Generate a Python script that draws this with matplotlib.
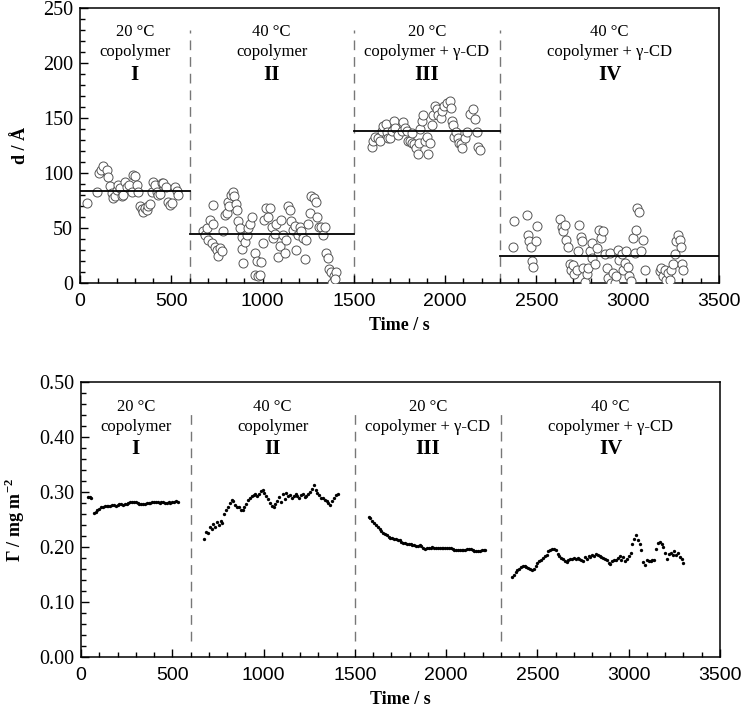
import numpy as np
import matplotlib
matplotlib.use("Agg")
import matplotlib.pyplot as plt
from matplotlib.ticker import MultipleLocator, FormatStrFormatter

plt.rcParams['font.family'] = ['Liberation Serif', 'DejaVu Serif']
plt.rcParams['mathtext.fontset'] = 'custom'
plt.rcParams['mathtext.rm'] = 'Liberation Serif'
plt.rcParams['mathtext.bf'] = 'Liberation Serif:bold'

# ---------------- data: top panel (d / Å) ----------------
t_I = [40, 91, 106, 115, 128, 146, 155, 164, 173, 183, 192, 200, 210, 219, 228, 237, 246, 256, 270, 283,
       289, 301, 310, 319, 329, 338, 347, 356, 365, 374, 383, 392, 402, 411, 420, 429, 438, 447, 456, 471,
       484, 493, 502, 520, 529, 538]
d_I = [73, 83, 100, 103, 106, 103, 96, 88, 82, 77, 79, 85, 89, 86, 79, 80, 92, 87, 89, 83,
       98, 97, 89, 83, 70, 67, 65, 68, 66, 70, 72, 83, 92, 89, 83, 80, 81, 91, 91, 87,
       74, 71, 73, 87, 84, 80]

t_II = [675, 685, 694, 703, 712, 721, 727, 730, 740, 749, 758, 767, 776, 785, 794, 803, 813, 818, 825, 836,
        843, 854, 861, 867, 876, 885, 890, 894, 903, 912, 921, 930, 940, 958, 967, 958, 976, 985, 994, 1000,
        1007, 1018, 1031, 1040, 1049, 1058, 1067, 1076, 1085, 1094, 1103, 1112, 1122, 1131, 1140, 1149, 1158, 1167, 1176, 1185,
        1194, 1204, 1213, 1222, 1231, 1240, 1249, 1258, 1267, 1280, 1291, 1298, 1309, 1322, 1331, 1340, 1349, 1358, 1364, 1377,
        1390, 1404, 1382, 1394]
d_II = [47, 44, 50, 39, 57, 36, 71, 54, 33, 30, 25, 32, 29, 47, 62, 64, 74, 70, 80, 83,
        79, 72, 66, 56, 50, 42, 31, 18, 37, 44, 50, 54, 60, 27, 20, 7, 6, 7, 19, 36,
        57, 68, 60, 68, 51, 41, 45, 54, 24, 34, 57, 44, 27, 39, 70, 66, 56, 48, 52, 30,
        44, 51, 47, 41, 22, 39, 54, 64, 79, 77, 74, 60, 51, 51, 44, 51, 27, 23, 13, 10,
        6, 10, 0, 4]

t_III = [1597, 1606, 1615, 1634, 1643, 1652, 1661, 1674, 1679, 1689, 1698, 1707, 1722, 1728, 1743, 1761, 1771, 1780, 1789, 1798,
         1807, 1816, 1820, 1831, 1840, 1849, 1856, 1864, 1871, 1880, 1889, 1898, 1908, 1917, 1926, 1935, 1944, 1953, 1962, 1977,
         1984, 1995, 2008, 2026, 2031, 2035, 2044, 2049, 2059, 2068, 2077, 2086, 2093, 2108, 2122, 2135, 2153, 2163, 2172, 2181,
         2190]
d_III = [124, 129, 133, 132, 129, 138, 143, 145, 137, 132, 132, 138, 147, 141, 135, 138, 146, 141, 138, 129,
         129, 136, 127, 126, 123, 117, 127, 140, 147, 153, 129, 133, 117, 127, 144, 153, 161, 158, 153, 150,
         156, 161, 164, 165, 159, 147, 144, 133, 137, 132, 127, 126, 123, 132, 137, 154, 158, 149, 137, 124,
         121]

t_IV = [2370, 2377, 2446, 2455, 2461, 2468, 2477, 2483, 2497, 2505, 2629, 2638, 2643, 2656, 2662, 2675, 2684, 2689, 2698, 2707,
        2720, 2729, 2735, 2742, 2747, 2753, 2766, 2778, 2784, 2793, 2802, 2807, 2820, 2833, 2844, 2851, 2862, 2875, 2884, 2893,
        2902, 2911, 2920, 2929, 2938, 2947, 2953, 2966, 2975, 2984, 2993, 3002, 3007, 3020, 3029, 3038, 3047, 3053, 3062, 3075,
        3084, 3093, 3175, 3184, 3193, 3202, 3211, 3220, 3230, 3239, 3248, 3257, 3262, 3275, 3284, 3293, 3299, 3302]
d_IV = [33, 56, 62, 44, 38, 33, 20, 15, 38, 52, 58, 51, 47, 53, 39, 33, 17, 12, 16, 8,
        12, 29, 53, 42, 38, 14, 1, 8, 14, 29, 23, 36, 17, 32, 48, 41, 47, 26, 14, 5,
        27, 0, 9, 0, 6, 30, 21, 26, 12, 18, 29, 15, 6, 2, 41, 27, 48, 68, 65, 29,
        39, 12, 11, 14, 6, 12, 3, 9, 3, 12, 17, 26, 38, 44, 39, 33, 17, 12]

region_bounds = [0, 600, 1500, 2300, 3500]
region_mean_d = [84, 45, 138.5, 25]

# ---------------- data: bottom panel (Γ) ----------------
g_start_I0, g_step_I0 = 40, 8
g_I0 = [0.291, 0.291, 0.290]
g_start_I, g_step = 70, 10
g_I = [0.261, 0.264, 0.267, 0.270, 0.272, 0.273, 0.275, 0.274, 0.274, 0.275, 0.276, 0.276, 0.275, 0.277,
       0.278, 0.278, 0.277, 0.279, 0.279, 0.280, 0.281, 0.282, 0.282, 0.281, 0.280, 0.279, 0.279, 0.278,
       0.279, 0.280, 0.280, 0.280, 0.281, 0.281, 0.281, 0.281, 0.280, 0.281, 0.281, 0.280, 0.280, 0.281,
       0.280, 0.281, 0.282, 0.283, 0.282]
g_start_II = 675
g_II = [0.215, 0.228, 0.225, 0.236, 0.232, 0.241, 0.237, 0.245, 0.240, 0.248, 0.244, 0.260, 0.268, 0.272,
        0.280, 0.285, 0.283, 0.276, 0.273, 0.272, 0.268, 0.267, 0.272, 0.278, 0.285, 0.289, 0.292, 0.295,
        0.297, 0.293, 0.296, 0.301, 0.303, 0.298, 0.293, 0.287, 0.280, 0.274, 0.272, 0.278, 0.284, 0.291,
        0.282, 0.296, 0.288, 0.298, 0.292, 0.295, 0.289, 0.293, 0.296, 0.292, 0.289, 0.294, 0.296, 0.291,
        0.293, 0.297, 0.300, 0.306, 0.312, 0.303, 0.298, 0.294, 0.290, 0.289, 0.286, 0.284, 0.280, 0.277,
        0.284, 0.289, 0.294, 0.297]
g_start_III = 1575
g_III = [0.255, 0.252, 0.248, 0.244, 0.240, 0.236, 0.232, 0.229, 0.226, 0.223, 0.221, 0.219, 0.217, 0.216,
         0.215, 0.214, 0.213, 0.212, 0.210, 0.208, 0.207, 0.206, 0.205, 0.205, 0.204, 0.203, 0.202, 0.201,
         0.203, 0.201, 0.198, 0.196, 0.198, 0.199, 0.199, 0.200, 0.199, 0.199, 0.199, 0.199, 0.199, 0.199,
         0.199, 0.199, 0.199, 0.198, 0.196, 0.195, 0.195, 0.194, 0.194, 0.195, 0.194, 0.195, 0.197, 0.197,
         0.197, 0.195, 0.193, 0.192, 0.192, 0.193, 0.194, 0.195, 0.195]
g_start_IV = 2360
g_IV = [0.145, 0.150, 0.155, 0.158, 0.160, 0.163, 0.166, 0.166, 0.163, 0.161, 0.160, 0.158, 0.160, 0.166,
        0.171, 0.174, 0.177, 0.180, 0.183, 0.186, 0.192, 0.195, 0.196, 0.196, 0.194, 0.188, 0.183, 0.180,
        0.178, 0.175, 0.173, 0.176, 0.178, 0.179, 0.180, 0.179, 0.180, 0.179, 0.177, 0.175, 0.182, 0.178,
        0.184, 0.182, 0.186, 0.184, 0.188, 0.186, 0.183, 0.181, 0.180, 0.178, 0.176, 0.171, 0.170, 0.174,
        0.176, 0.177, 0.180, 0.184, 0.176, 0.182, 0.174, 0.178, 0.184, 0.190, 0.205, 0.214, 0.222, 0.212,
        0.205, 0.195, 0.172, 0.168, 0.176, 0.175, 0.175, 0.176, 0.177, 0.197, 0.207, 0.210, 0.205, 0.200,
        0.190, 0.178, 0.188, 0.190, 0.186, 0.192, 0.185, 0.190, 0.182, 0.178, 0.171]

temps = ["20 °C", "40 °C", "20 °C", "40 °C"]
samples = ["copolymer", "copolymer", "copolymer + γ-CD", "copolymer + γ-CD"]
numerals = ["I", "II", "III", "IV"]
xticks = [0, 500, 1000, 1500, 2000, 2500, 3000, 3500]


def series(start, step, vals):
    return start + step * np.arange(len(vals))


fig = plt.figure(figsize=(7.42, 7.17), dpi=100)
ax1 = fig.add_axes([80 / 742, (717 - 283) / 717, 639 / 742, 275 / 717])
ax2 = fig.add_axes([81 / 742, (717 - 657) / 717, 639 / 742, 275 / 717])

DASH = (0, (7, 5))
GRAY = '#777777'


def style(ax, ymax, ymaj, ymin, yfmt):
    ax.set_xlim(0, 3500)
    ax.set_ylim(0, ymax)
    ax.set_xticks(xticks)
    ax.xaxis.set_minor_locator(MultipleLocator(100))
    ax.yaxis.set_major_locator(MultipleLocator(ymaj))
    ax.yaxis.set_minor_locator(MultipleLocator(ymin))
    ax.yaxis.set_major_formatter(FormatStrFormatter(yfmt))
    ax.tick_params(which='both', direction='in', top=False, right=False, width=1.0, color='black')
    ax.tick_params(which='major', length=6)
    ax.tick_params(which='minor', length=3.5)
    ax.tick_params(axis='x', pad=7)
    ax.tick_params(axis='y', pad=5)
    for lbl in ax.get_xticklabels():
        lbl.set_fontfamily('Liberation Sans')
        lbl.set_fontsize(14)
    for lbl in ax.get_yticklabels():
        lbl.set_fontfamily('Liberation Serif')
        lbl.set_fontsize(14.5)
    for sp in ax.spines.values():
        sp.set_linewidth(1.1)
    ax.set_xlabel('Time / s', fontsize=13, fontweight='bold', labelpad=5)


# top panel
ts = [t_I, t_II, t_III, t_IV]
ds = [d_I, d_II, d_III, d_IV]
for t, d in zip(ts, ds):
    ax1.plot(t, d, 'o', ms=6.5, mfc='white', mec='#555555', mew=0.7, zorder=3)
for i in range(4):
    ax1.plot([region_bounds[i], region_bounds[i + 1]], [region_mean_d[i]] * 2, color='black', lw=1.3, zorder=4)
for b in region_bounds[1:4]:
    ax1.plot([b, b], [0, 230], color=GRAY, lw=1.0, linestyle=DASH, zorder=1)
for i in range(4):
    xc = (region_bounds[i] + region_bounds[i + 1]) / 2
    ax1.text(xc, 228, temps[i], ha='center', va='center', fontsize=12)
    ax1.text(xc, 210, samples[i], ha='center', va='center', fontsize=12)
    ax1.text(xc, 189, numerals[i], ha='center', va='center', fontsize=15, fontweight='bold')
style(ax1, 250, 50, 10, '%d')
ax1.set_ylabel('d / Å', fontsize=13, fontweight='bold')
ax1.yaxis.set_label_coords(-0.08, 0.5)

# bottom panel
gt = [series(g_start_I0, g_step_I0, g_I0), series(g_start_I, g_step, g_I),
      series(g_start_II, g_step, g_II), series(g_start_III, g_step, g_III),
      series(g_start_IV, g_step, g_IV)]
gv = [g_I0, g_I, g_II, g_III, g_IV]
for t, g in zip(gt, gv):
    ax2.plot(t, g, 'o', ms=2.4, color='black', mew=0, zorder=3)
for b in region_bounds[1:4]:
    ax2.plot([b, b], [0.03, 0.45], color=GRAY, lw=1.0, linestyle=DASH, zorder=1)
for i in range(4):
    xc = (region_bounds[i] + region_bounds[i + 1]) / 2
    ax2.text(xc, 0.455, temps[i], ha='center', va='center', fontsize=12)
    ax2.text(xc, 0.419, samples[i], ha='center', va='center', fontsize=12)
    ax2.text(xc, 0.378, numerals[i], ha='center', va='center', fontsize=15, fontweight='bold')
style(ax2, 0.5, 0.1, 0.02, '%.2f')
ax2.set_ylabel('Γ / mg m$^{\\mathbf{-2}}$', fontsize=13, fontweight='bold')
ax2.yaxis.set_label_coords(-0.085, 0.5)

fig.savefig('out.png', dpi=100)
